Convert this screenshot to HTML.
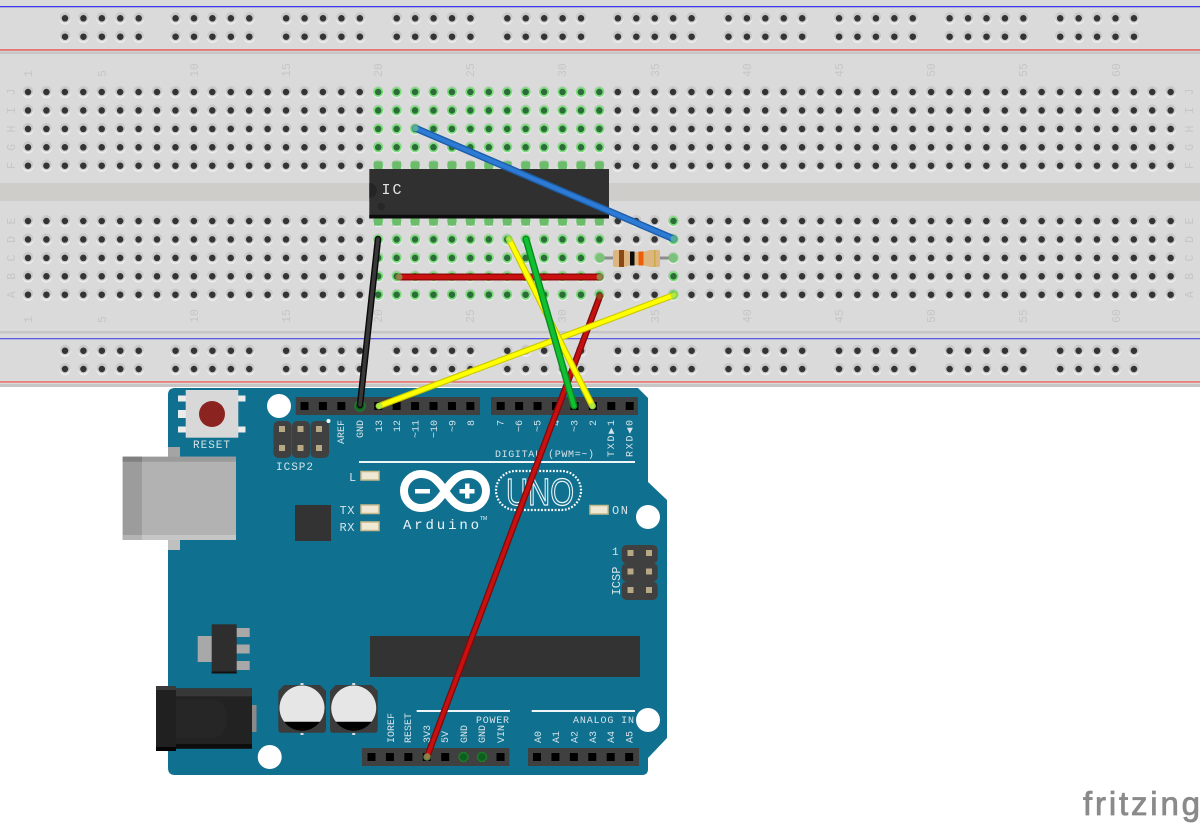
<!DOCTYPE html>
<html><head><meta charset="utf-8"><style>
html,body{margin:0;padding:0;background:#fff;width:1200px;height:823px;overflow:hidden}
svg{display:block}
.n{font:11.5px "Liberation Mono",monospace;fill:#c6c6c6}
.l{font:10px "Liberation Mono",monospace;fill:#d3e3e9}
.h{fill:#404040}
</style></head><body>
<svg width="1200" height="823" viewBox="0 0 1200 823" xmlns="http://www.w3.org/2000/svg" xmlns:xlink="http://www.w3.org/1999/xlink">
<defs>
<path id="main" d="M28 92H1173M28 110.4H1173M28 128.9H1173M28 147.3H1173M28 165.7H1173M28 221H1173M28 239.4H1173M28 257.9H1173M28 276.3H1173M28 294.7H1173" fill="none" stroke-linecap="round" stroke-dasharray="0 18.43"/>
<path id="rail" d="M65 18.3H1140M65 36.7H1140M65 350.7H1140M65 369H1140" fill="none" stroke-linecap="round" stroke-dasharray="0 18.43 0 18.43 0 18.43 0 18.43 0 36.86"/>
<path id="gr" d="M378.2 92H601M378.2 110.4H601M378.2 128.9H601M378.2 147.3H601M378.2 165.7H601M378.2 221H601M378.2 239.4H601M378.2 257.9H601M378.2 276.3H601M378.2 294.7H601" fill="none" stroke-linecap="round" stroke-dasharray="0 18.43"/>
<path id="gc" d="M673.5 221V296" fill="none" stroke-linecap="round" stroke-dasharray="0 18.43"/>
</defs>

<!-- breadboard -->
<rect x="0" y="0" width="1200" height="387" fill="#dadada"/>
<rect x="0" y="183" width="1200" height="18" fill="#cfcdca"/>
<rect x="0" y="51.500" width="1200" height="2.500" fill="#c6c6c6"/>
<rect x="0" y="331" width="1200" height="2.500" fill="#c6c6c6"/>
<rect x="0" y="384" width="1200" height="3" fill="#c6c6c6"/>
<rect x="0" y="6" width="1200" height="1.300" fill="#3a3ae8"/>
<rect x="0" y="49.300" width="1200" height="1.300" fill="#e84a4a"/>
<rect x="0" y="338" width="1200" height="1.300" fill="#5a5ae8"/>
<rect x="0" y="381.300" width="1200" height="1.300" fill="#ee5a5a"/>

<g stroke="#ececec" stroke-width="11" transform="translate(0,.8)"><use xlink:href="#main"/><use xlink:href="#rail"/></g>
<g stroke="#c9c9c9" stroke-width="10.500" transform="translate(0,-.8)"><use xlink:href="#main"/><use xlink:href="#rail"/></g>
<g stroke="#343434" stroke-width="6.500"><use xlink:href="#main"/><use xlink:href="#rail"/></g>

<g stroke="#7cdc7c" stroke-width="10"><use xlink:href="#gr"/><use xlink:href="#gc"/></g>
<g stroke="#2c6c38" stroke-width="6.500"><use xlink:href="#gr"/><use xlink:href="#gc"/></g>

<!-- numbers -->
<g class="n">
<text class="n" transform="translate(32,77) rotate(-90)">1</text><text class="n" transform="translate(106,77) rotate(-90)">5</text><text class="n" transform="translate(198,77) rotate(-90)">10</text><text class="n" transform="translate(290,77) rotate(-90)">15</text><text class="n" transform="translate(382,77) rotate(-90)">20</text><text class="n" transform="translate(474,77) rotate(-90)">25</text><text class="n" transform="translate(566,77) rotate(-90)">30</text><text class="n" transform="translate(659,77) rotate(-90)">35</text><text class="n" transform="translate(751,77) rotate(-90)">40</text><text class="n" transform="translate(843,77) rotate(-90)">45</text><text class="n" transform="translate(935,77) rotate(-90)">50</text><text class="n" transform="translate(1027,77) rotate(-90)">55</text><text class="n" transform="translate(1120,77) rotate(-90)">60</text>
<text class="n" transform="translate(32,323) rotate(-90)">1</text><text class="n" transform="translate(106,323) rotate(-90)">5</text><text class="n" transform="translate(198,323) rotate(-90)">10</text><text class="n" transform="translate(290,323) rotate(-90)">15</text><text class="n" transform="translate(382,323) rotate(-90)">20</text><text class="n" transform="translate(474,323) rotate(-90)">25</text><text class="n" transform="translate(566,323) rotate(-90)">30</text><text class="n" transform="translate(659,323) rotate(-90)">35</text><text class="n" transform="translate(751,323) rotate(-90)">40</text><text class="n" transform="translate(843,323) rotate(-90)">45</text><text class="n" transform="translate(935,323) rotate(-90)">50</text><text class="n" transform="translate(1027,323) rotate(-90)">55</text><text class="n" transform="translate(1120,323) rotate(-90)">60</text>
</g>
<g text-anchor="middle">
<text class="n" text-anchor="middle" transform="translate(15,92) rotate(-90)">J</text><text class="n" text-anchor="middle" transform="translate(15,110.400) rotate(-90)">I</text><text class="n" text-anchor="middle" transform="translate(15,129) rotate(-90)">H</text><text class="n" text-anchor="middle" transform="translate(15,147.300) rotate(-90)">G</text><text class="n" text-anchor="middle" transform="translate(15,165.700) rotate(-90)">F</text>
<text class="n" text-anchor="middle" transform="translate(15,221) rotate(-90)">E</text><text class="n" text-anchor="middle" transform="translate(15,239.400) rotate(-90)">D</text><text class="n" text-anchor="middle" transform="translate(15,258) rotate(-90)">C</text><text class="n" text-anchor="middle" transform="translate(15,276.300) rotate(-90)">B</text><text class="n" text-anchor="middle" transform="translate(15,294.700) rotate(-90)">A</text>
<text class="n" text-anchor="middle" transform="translate(1193,92) rotate(-90)">J</text><text class="n" text-anchor="middle" transform="translate(1193,110.400) rotate(-90)">I</text><text class="n" text-anchor="middle" transform="translate(1193,129) rotate(-90)">H</text><text class="n" text-anchor="middle" transform="translate(1193,147.300) rotate(-90)">G</text><text class="n" text-anchor="middle" transform="translate(1193,165.700) rotate(-90)">F</text>
<text class="n" text-anchor="middle" transform="translate(1193,221) rotate(-90)">E</text><text class="n" text-anchor="middle" transform="translate(1193,239.400) rotate(-90)">D</text><text class="n" text-anchor="middle" transform="translate(1193,258) rotate(-90)">C</text><text class="n" text-anchor="middle" transform="translate(1193,276.300) rotate(-90)">B</text><text class="n" text-anchor="middle" transform="translate(1193,294.700) rotate(-90)">A</text>
</g>

<!-- IC pins -->
<path d="M374 166H605" fill="none" stroke="#6cbc6c" stroke-width="9" stroke-dasharray="8.500 9.930"/>
<path d="M374 221.500H605" fill="none" stroke="#6cbc6c" stroke-width="8" stroke-dasharray="8.500 9.930"/>
<!-- IC -->
<rect x="369.300" y="169" width="239.700" height="49.500" fill="#303030"/>
<rect x="369.300" y="214.800" width="239.700" height="3.700" fill="#0c0c0c"/>
<path d="M369.300 183a7.500 7.500 0 0 1 0 15z" fill="#242424"/>
<circle cx="381.300" cy="206.500" r="3.700" fill="#272727"/>
<text x="381.500" y="194" font-family="Liberation Mono,monospace" font-size="15" fill="#e4e4e4" textLength="20">IC</text>

<!-- resistor -->
<rect x="600" y="256.500" width="73" height="3" fill="#8d8d8d"/>
<circle cx="600.500" cy="258" r="4.500" fill="#7cc07c"/><circle cx="673" cy="258" r="4.500" fill="#7cc07c"/>
<path d="M616 250h8q4 1 8 2h10q5-1 8-2h8q2 0 2 2v13q0 2-2 2h-8q-3-1-8-2h-10q-4 1-8 2h-8q-3 0-3-2v-13q0-2 3-2z" fill="#dcb67e"/>
<rect x="619" y="250" width="5" height="17" fill="#8a4a16"/>
<rect x="630" y="251.500" width="4.500" height="14" fill="#0c0c0c"/>
<rect x="638.500" y="251.500" width="5" height="14" fill="#ee5d0a"/>
<rect x="654" y="250" width="1.500" height="17" fill="#c9a84a"/>

<!-- Arduino board -->
<path d="M175 388H638L648 398V482L667 500V738L648 758V769Q648 775 642 775H175Q168 775 168 768V395Q168 388 175 388Z" fill="#10708f"/>
<circle cx="279" cy="406" r="12" fill="#fff"/><circle cx="648" cy="517" r="12" fill="#fff"/><circle cx="648" cy="720" r="12" fill="#fff"/><circle cx="269.700" cy="757" r="12" fill="#fff"/>

<!-- reset -->
<g fill="#ececec"><rect x="178" y="395.500" width="8" height="6"/><rect x="178" y="410" width="8" height="8"/><rect x="178" y="426.500" width="8" height="6"/><rect x="238" y="395.500" width="7.500" height="6"/><rect x="238" y="426.500" width="7.500" height="6"/></g>
<rect x="185.700" y="390" width="52.600" height="47.700" fill="#d8d8d8"/>
<circle cx="212" cy="414" r="13" fill="#8b2420"/>
<text class="l" x="211.500" y="448" text-anchor="middle" textLength="37" style="font-size:11px">RESET</text>

<!-- ICSP2 -->
<g fill="#404040"><rect x="273.500" y="421" width="18" height="37" rx="5"/><rect x="292" y="421" width="18" height="37" rx="5"/><rect x="310.500" y="421" width="18.500" height="37" rx="5"/></g>
<g fill="#b7a986"><rect x="279" y="426" width="6" height="6"/><rect x="297.500" y="426" width="6" height="6"/><rect x="316" y="426" width="6" height="6"/><rect x="279" y="445" width="6" height="6"/><rect x="297.500" y="445" width="6" height="6"/><rect x="316" y="445" width="6" height="6"/></g>
<circle cx="328.500" cy="421" r="2" fill="#fff"/>
<text class="l" x="294.500" y="470" text-anchor="middle" textLength="37" style="font-size:11px">ICSP2</text>

<!-- USB -->
<rect x="168" y="447" width="12" height="10" fill="#a4a4a4"/><rect x="168" y="540" width="12" height="10" fill="#c0c0c0"/>
<rect x="122.700" y="456.700" width="113.300" height="83.300" fill="#b2b2b2"/>
<rect x="122.700" y="456.700" width="19.300" height="83.300" fill="#9c9c9c"/>
<rect x="122.700" y="456.700" width="113.300" height="5" fill="#9a9a9a"/><rect x="122.700" y="456.700" width="19.300" height="5" fill="#808080"/>
<rect x="122.700" y="535" width="113.300" height="5" fill="#c6c6c6"/><rect x="122.700" y="535" width="19.300" height="5" fill="#b4b4b4"/>

<rect x="295" y="505" width="36" height="36" fill="#333"/>
<!-- LEDs -->
<g fill="#efe8d4" stroke="#c8b98a" stroke-width="1.500"><rect x="361" y="471.500" width="18" height="8.500"/><rect x="361" y="505" width="18" height="8.500"/><rect x="361" y="522" width="18" height="8.500"/><rect x="590" y="505.500" width="18" height="8.500"/></g>
<g class="l" style="font-size:12px"><text class="l" x="349" y="481" style="font-size:12px">L</text><text class="l" x="339.500" y="514" style="font-size:12px" textLength="15">TX</text><text class="l" x="339.500" y="531" style="font-size:12px" textLength="15">RX</text><text class="l" x="612" y="514" style="font-size:12px" textLength="16">ON</text></g>

<rect x="359" y="461" width="276" height="2" fill="#eef5f7"/>
<text class="l" x="495" y="457" textLength="99">DIGITAL (PWM=~)</text>

<!-- logo -->
<path d="M445 491C437 479 431 474 421 474A17 17 0 0 0 421 508C431 508 437 503 445 491C453 479 459 474 469 474A17 17 0 0 1 469 508C459 508 453 503 445 491Z" fill="none" stroke="#fff" stroke-width="8"/>
<rect x="415" y="489" width="15" height="4.500" fill="#fff"/>
<rect x="459.500" y="489" width="15" height="4.500" fill="#fff"/><rect x="465" y="483.500" width="4.500" height="15" fill="#fff"/>
<text x="403" y="529" font-family="Liberation Mono,monospace" font-size="14" fill="#eef5f7" textLength="76">Arduino</text>
<text x="480" y="520" font-family="Liberation Sans,sans-serif" font-size="5" fill="#eef5f7">TM</text>
<rect x="496" y="471" width="85" height="39" rx="19.500" fill="none" stroke="#fff" stroke-width="2.200" stroke-dasharray="1.800 1.600"/>
<text x="506" y="505" font-family="Liberation Sans,sans-serif" font-size="38" fill="none" stroke="#e8f2f5" stroke-width="1.300" textLength="68" lengthAdjust="spacingAndGlyphs">UNO</text>

<!-- ICSP -->
<g fill="#404040"><rect x="621.700" y="545" width="36" height="18.500" rx="5"/><rect x="621.700" y="563" width="36" height="18.500" rx="5"/><rect x="621.700" y="581.500" width="36" height="18.500" rx="5"/></g>
<g fill="#b7a986"><rect x="627.500" y="550" width="6" height="6"/><rect x="646" y="550" width="6" height="6"/><rect x="627.500" y="568.500" width="6" height="6"/><rect x="646" y="568.500" width="6" height="6"/><rect x="627.500" y="587" width="6" height="6"/><rect x="646" y="587" width="6" height="6"/></g>
<text class="l" x="612" y="555" style="font-size:11px">1</text>
<text class="l" text-anchor="middle" transform="translate(620,581) rotate(-90)" style="font-size:12px">ICSP</text>

<rect x="370" y="636" width="270" height="41" fill="#333"/>

<!-- regulator -->
<rect x="197.700" y="636" width="15" height="26" fill="#a8a8a8"/>
<g fill="#a8a8a8"><rect x="236" y="628" width="13.700" height="9"/><rect x="236" y="644.500" width="13.700" height="9"/><rect x="236" y="661" width="13.700" height="9"/></g>
<rect x="211.700" y="624.300" width="25" height="49" fill="#2e2e2e"/>
<rect x="211.700" y="671.500" width="25" height="2" fill="#111"/>

<!-- barrel -->
<rect x="252" y="705" width="4.500" height="27" fill="#8a8a8a"/>
<rect x="170" y="688.300" width="82" height="60.400" fill="#222"/>
<rect x="170" y="688.300" width="82" height="8" fill="#383838"/>
<rect x="170" y="744" width="82" height="4.700" fill="#0d0d0d"/>
<path d="M176 699H210Q227 699 227 718Q227 738 210 738H176Z" fill="#262626"/>
<rect x="156" y="686" width="20" height="65" fill="#202020"/>
<rect x="156" y="686" width="20" height="4" fill="#3a3a3a"/><rect x="156" y="747" width="20" height="4" fill="#050505"/>

<!-- caps -->
<g><path d="M284 685H320L326 691V729Q326 732.700 323 732.700H281Q278.300 732.700 278.300 729V691Z" fill="#3b3b3b"/>
<circle cx="302" cy="708" r="22.500" fill="#e6e6e6"/><path d="M284 721.700H320A22.500 22.500 0 0 1 284 721.700Z" fill="#000"/>
<rect x="300.500" y="683" width="3" height="2" fill="#ddd"/><rect x="300.500" y="733" width="3" height="2" fill="#ddd"/></g>
<g transform="translate(51.700,0)"><path d="M284 685H320L326 691V729Q326 732.700 323 732.700H281Q278.300 732.700 278.300 729V691Z" fill="#3b3b3b"/>
<circle cx="302" cy="708" r="22.500" fill="#e6e6e6"/><path d="M284 721.700H320A22.500 22.500 0 0 1 284 721.700Z" fill="#000"/>
<rect x="300.500" y="683" width="3" height="2" fill="#ddd"/><rect x="300.500" y="733" width="3" height="2" fill="#ddd"/></g>

<!-- headers -->
<rect class="h" x="295.700" y="397" width="184.300" height="18"/>
<rect class="h" x="491" y="397" width="147" height="18"/>
<rect class="h" x="362" y="748" width="147.300" height="18"/>
<rect class="h" x="528" y="748" width="111" height="18"/>
<path d="M300.500 406H476M496.700 406H634M367.500 757H505M533 757H634" stroke="#000" stroke-width="8" fill="none" stroke-dasharray="8 10.430"/>
<g fill="#0d5f1e" stroke="#1d7a2a" stroke-width="1.500"><circle cx="360" cy="406" r="5"/><circle cx="463.500" cy="757" r="4.500"/><circle cx="482" cy="757" r="4.500"/></g>

<!-- header labels -->
<g>
<text class="l" text-anchor="end" transform="translate(344,420) rotate(-90)">AREF</text>
<text class="l" text-anchor="end" transform="translate(363,420) rotate(-90)">GND</text>
<text class="l" text-anchor="end" transform="translate(382,420) rotate(-90)">13</text>
<text class="l" text-anchor="end" transform="translate(400,420) rotate(-90)">12</text>
<text class="l" text-anchor="end" transform="translate(418.500,420) rotate(-90)">~11</text>
<text class="l" text-anchor="end" transform="translate(437,420) rotate(-90)">~10</text>
<text class="l" text-anchor="end" transform="translate(455.500,420) rotate(-90)">~9</text>
<text class="l" text-anchor="end" transform="translate(474,420) rotate(-90)">8</text>
<text class="l" text-anchor="end" transform="translate(503.500,420) rotate(-90)">7</text>
<text class="l" text-anchor="end" transform="translate(522,420) rotate(-90)">~6</text>
<text class="l" text-anchor="end" transform="translate(540.500,420) rotate(-90)">~5</text>
<text class="l" text-anchor="end" transform="translate(559,420) rotate(-90)">4</text>
<text class="l" text-anchor="end" transform="translate(577.500,420) rotate(-90)">~3</text>
<text class="l" text-anchor="end" transform="translate(596,420) rotate(-90)">2</text>
<text class="l" transform="translate(614,457) rotate(-90)" textLength="37">TXD▶1</text>
<text class="l" transform="translate(632.500,457) rotate(-90)" textLength="37">RXD◀0</text>
<text class="l" text-anchor="start" transform="translate(394,743) rotate(-90)">IOREF</text>
<text class="l" text-anchor="start" transform="translate(411,743) rotate(-90)">RESET</text>
<text class="l" text-anchor="start" transform="translate(430,743) rotate(-90)">3V3</text>
<text class="l" text-anchor="start" transform="translate(448,743) rotate(-90)">5V</text>
<text class="l" text-anchor="start" transform="translate(467,743) rotate(-90)">GND</text>
<text class="l" text-anchor="start" transform="translate(485,743) rotate(-90)">GND</text>
<text class="l" text-anchor="start" transform="translate(504,743) rotate(-90)">VIN</text>
<text class="l" text-anchor="start" transform="translate(541,743) rotate(-90)">A0</text>
<text class="l" text-anchor="start" transform="translate(559,743) rotate(-90)">A1</text>
<text class="l" text-anchor="start" transform="translate(577.500,743) rotate(-90)">A2</text>
<text class="l" text-anchor="start" transform="translate(596,743) rotate(-90)">A3</text>
<text class="l" text-anchor="start" transform="translate(614,743) rotate(-90)">A4</text>
<text class="l" text-anchor="start" transform="translate(632.500,743) rotate(-90)">A5</text>
</g>
<rect x="416.700" y="710" width="93.300" height="2" fill="#eef5f7"/><rect x="531.700" y="710" width="103.300" height="2" fill="#eef5f7"/>
<text class="l" x="476" y="723" textLength="33">POWER</text>
<text class="l" x="573" y="723" textLength="61" xml:space="preserve">ANALOG IN</text>

<!-- wires -->
<g fill="none" stroke-linecap="round">
<path d="M378 239L360 405" stroke="#0a0a0a" stroke-width="6.500"/><path d="M378 239L360 405" stroke="#383838" stroke-width="3.600"/>
<path d="M399 277H600" stroke="#8f0a0a" stroke-width="7"/><path d="M399 277H600" stroke="#cc1010" stroke-width="4.200"/>
<path d="M600 296L427 757" stroke="#7c0c0c" stroke-width="6.500"/><path d="M600 296L427 757" stroke="#c81010" stroke-width="3.800"/>
<path d="M674 295L379 406" stroke="#c8c800" stroke-width="6.500"/><path d="M674 295L379 406" stroke="#ffff00" stroke-width="4.200"/>
<path d="M509 239L592.500 406" stroke="#c8c800" stroke-width="6.500"/><path d="M509 239L592.500 406" stroke="#ffff00" stroke-width="4.200"/>
<path d="M526 239L574 406" stroke="#0a8a20" stroke-width="7"/><path d="M526 239L574 406" stroke="#10c030" stroke-width="4.200"/>
<path d="M415 128L674 239" stroke="#1c5ea8" stroke-width="7"/><path d="M415 128L674 239" stroke="#2e7bd6" stroke-width="4.200"/>
</g>
<!-- wire ends -->
<g fill="#74d874" fill-opacity=".55">
<circle cx="415" cy="128" r="3.500"/><circle cx="674" cy="239" r="3.500"/><circle cx="509" cy="239" r="3.500"/><circle cx="399" cy="277" r="3.500"/><circle cx="600" cy="277" r="3.500"/><circle cx="600" cy="296" r="3.500" fill="#7c6a20"/><circle cx="674" cy="295" r="3.500"/><circle cx="379" cy="406" r="3.500"/><circle cx="427" cy="757" r="3.800"/><circle cx="592.500" cy="406" r="3.500"/>
</g>

<text x="1083" y="815" font-family="Liberation Sans,sans-serif" font-size="33" fill="#8a8a8a" stroke="#8a8a8a" stroke-width=".8" textLength="117" lengthAdjust="spacing">fritzing</text>
</svg>
</body></html>
